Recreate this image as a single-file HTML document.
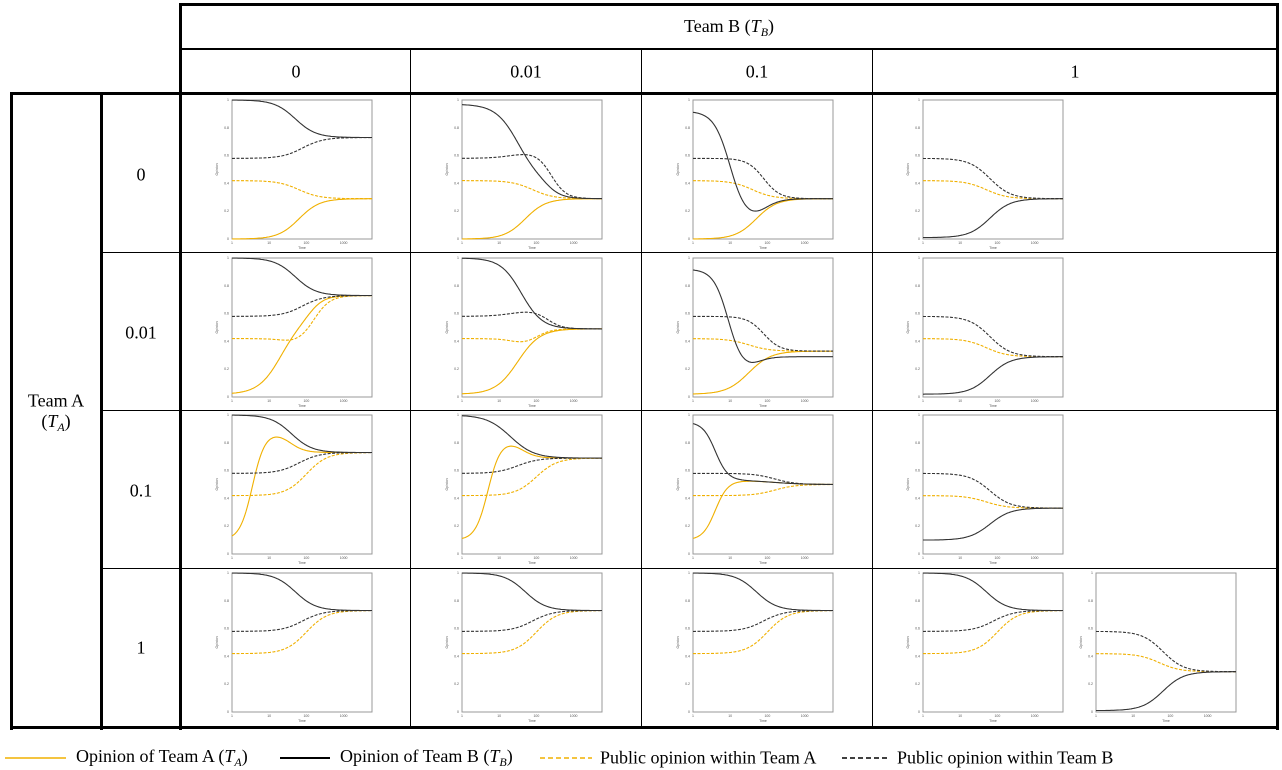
<!DOCTYPE html>
<html><head><meta charset="utf-8">
<style>
body{margin:0;width:1282px;height:767px;background:#fff;position:relative;overflow:hidden;font-family:"Liberation Serif",serif;font-size:18px;color:#000}
.l{position:absolute;background:#000}
.t{position:absolute;transform:translate(-50%,-50%);white-space:nowrap}
sub{font-size:12px;vertical-align:-4px}
svg{position:absolute;left:0;top:0}
</style></head><body>
<div class="l" style="left:179px;top:3px;width:1100px;height:3px"></div>
<div class="l" style="left:179px;top:3px;width:3px;height:727px"></div>
<div class="l" style="left:1276px;top:3px;width:3px;height:727px"></div>
<div class="l" style="left:182px;top:48px;width:1095px;height:2px"></div>
<div class="l" style="left:10px;top:92px;width:1269px;height:3px"></div>
<div class="l" style="left:10px;top:92px;width:3px;height:638px"></div>
<div class="l" style="left:100px;top:92px;width:3px;height:638px"></div>
<div class="l" style="left:10px;top:726px;width:1269px;height:3px"></div>
<div class="l" style="left:410px;top:50px;width:1px;height:677px"></div>
<div class="l" style="left:641px;top:50px;width:1px;height:677px"></div>
<div class="l" style="left:872px;top:50px;width:1px;height:677px"></div>
<div class="l" style="left:103px;top:252px;width:1174px;height:1px"></div>
<div class="l" style="left:103px;top:410px;width:1174px;height:1px"></div>
<div class="l" style="left:103px;top:568px;width:1174px;height:1px"></div>

<div class="t" style="left:729px;top:28px">Team B (<i>T<sub>B</sub></i>)</div>
<div class="t" style="left:296px;top:72px">0</div>
<div class="t" style="left:526px;top:72px">0.01</div>
<div class="t" style="left:757px;top:72px">0.1</div>
<div class="t" style="left:1075px;top:72px">1</div>
<div class="t" style="left:141px;top:175px">0</div>
<div class="t" style="left:141px;top:333px">0.01</div>
<div class="t" style="left:141px;top:491px">0.1</div>
<div class="t" style="left:141px;top:648px">1</div>
<div class="t" style="left:56px;top:401px">Team A</div>
<div class="t" style="left:56px;top:423px">(<i>T<sub>A</sub></i>)</div>

<svg id="s" width="1282" height="767"></svg>

<div class="t" style="left:76px;top:758px;transform:translate(0,-50%)">Opinion of Team A (<i>T<sub>A</sub></i>)</div>
<div class="t" style="left:340px;top:758px;transform:translate(0,-50%)">Opinion of Team B (<i>T<sub>B</sub></i>)</div>
<div class="t" style="left:600px;top:758px;transform:translate(0,-50%)">Public opinion within Team A</div>
<div class="t" style="left:897px;top:758px;transform:translate(0,-50%)">Public opinion within Team B</div>

<script>
var Y='#f0b000',K='#333';
var s=document.getElementById('s'),h='';
h+='<line x1="5" y1="758" x2="66" y2="758" stroke="'+Y+'" stroke-width="1.5"/>';
h+='<line x1="280" y1="758" x2="330" y2="758" stroke="#000" stroke-width="2"/>';
h+='<line x1="540" y1="758" x2="592" y2="758" stroke="'+Y+'" stroke-width="1.5" stroke-dasharray="5,3"/>';
h+='<line x1="842" y1="758" x2="890" y2="758" stroke="#000" stroke-width="1.5" stroke-dasharray="5,3"/>';
function S(u,c,w){return 1/(1+Math.exp(-(u-c)/w));}
function f(y0,terms){return function(u){var y=y0;terms.forEach(function(t){y+=t[0]*S(u,t[1],t[2]);});return y;};}
function chart(x,y,curves){
 var W=140,H=139;
 h+='<rect x="'+x+'" y="'+y+'" width="'+W+'" height="'+H+'" fill="none" stroke="#999" stroke-width="1"/>';
 var yl=['0','0.2','0.4','0.6','0.8','1'];
 for(var i=0;i<6;i++){var yy=y+H-i*H/5;h+='<text x="'+(x-3)+'" y="'+(yy+1)+'" font-size="3.5" text-anchor="end" fill="#555" font-family="Liberation Sans">'+yl[i]+'</text>';}
 var xl=['1','10','100','1000'];
 for(var i=0;i<4;i++){var xx=x+i*37.2;h+='<text x="'+xx+'" y="'+(y+H+5)+'" font-size="3.5" text-anchor="middle" fill="#555" font-family="Liberation Sans">'+xl[i]+'</text>';}
 h+='<text x="'+(x+W/2)+'" y="'+(y+H+10)+'" font-size="3.5" text-anchor="middle" fill="#555" font-family="Liberation Sans">Time</text>';
 h+='<text x="'+(x-14)+'" y="'+(y+H/2)+'" font-size="3.5" text-anchor="middle" fill="#555" font-family="Liberation Sans" transform="rotate(-90 '+(x-14)+' '+(y+H/2)+')">Opinion</text>';
 curves.forEach(function(c){
  var fn=c[0],col=c[1],dash=c[2],p=[];
  for(var px=0;px<=W;px+=1){var u=px/37.2;var v=fn(u);p.push((x+px).toFixed(1)+','+(y+H-v*H).toFixed(1));}
  h+='<polyline points="'+p.join(' ')+'" fill="none" stroke="'+col+'" stroke-width="1.1"'+(dash?' stroke-dasharray="3,1.5"':'')+'/>';
 });
}
var cols=[232,462,693,923],rows=[100,258,415,573];
var w=0.28;
var D={
'0,0':[[f(0,[[0.29,1.8,w]]),Y,0],[f(0.42,[[-0.13,1.8,w]]),Y,1],[f(0.58,[[0.15,1.9,w]]),K,1],[f(1,[[-0.27,1.7,w]]),K,0]],
'0,1':[[f(0,[[0.29,1.7,w]]),Y,0],[f(0.42,[[-0.13,1.9,w]]),Y,1],[f(0.58,[[0.05,1.4,0.3],[-0.34,2.4,0.2]]),K,1],[f(0.97,[[-0.55,1.5,0.3],[-0.13,2.3,0.2]]),K,0]],
'0,2':[[f(0,[[0.29,1.7,w]]),Y,0],[f(0.42,[[-0.13,1.6,w]]),Y,1],[f(0.58,[[-0.29,1.9,0.22]]),K,1],[f(0.92,[[-0.8,1.0,0.22],[0.17,1.9,0.22]]),K,0]],
'0,3':[[f(0.42,[[-0.13,1.7,w]]),Y,1],[f(0.58,[[-0.29,1.8,w]]),K,1],[f(0.01,[[0.28,1.8,w]]),K,0]],
'1,0':[[f(0.02,[[0.53,1.3,0.3],[0.18,2.1,0.2]]),Y,0],[f(0.42,[[-0.04,1.4,0.2],[0.35,2.2,0.22]]),Y,1],[f(0.58,[[0.15,1.9,w]]),K,1],[f(1,[[-0.27,1.7,w]]),K,0]],
'1,1':[[f(0.02,[[0.47,1.5,0.3]]),Y,0],[f(0.42,[[-0.05,1.4,0.2],[0.12,2.0,0.2]]),Y,1],[f(0.58,[[0.05,1.4,0.3],[-0.14,2.3,0.2]]),K,1],[f(1,[[-0.51,1.6,0.28]]),K,0]],
'1,2':[[f(0.02,[[0.31,1.5,0.3]]),Y,0],[f(0.42,[[-0.09,1.5,w]]),Y,1],[f(0.58,[[-0.25,1.9,0.22]]),K,1],[f(0.92,[[-0.74,0.95,0.2],[0.11,1.7,0.2]]),K,0]],
'1,3':[[f(0.42,[[-0.13,1.7,w]]),Y,1],[f(0.58,[[-0.29,1.8,w]]),K,1],[f(0.02,[[0.27,1.8,w]]),K,0]],
'2,0':[[f(0.1,[[0.78,0.55,0.17],[-0.15,1.55,0.2]]),Y,0],[f(0.42,[[0.31,2.0,w]]),Y,1],[f(0.58,[[0.15,1.8,w]]),K,1],[f(1,[[-0.27,1.6,w]]),K,0]],
'2,1':[[f(0.1,[[0.72,0.7,0.17],[-0.13,1.6,0.2]]),Y,0],[f(0.42,[[0.27,2.0,w]]),Y,1],[f(0.58,[[0.11,1.5,w]]),K,1],[f(1,[[-0.31,1.3,0.32]]),K,0]],
'2,2':[[f(0.1,[[0.43,0.6,0.17],[-0.03,2.2,0.4]]),Y,0],[f(0.42,[[0.08,2.2,w]]),Y,1],[f(0.58,[[-0.08,2.2,w]]),K,1],[f(0.95,[[-0.42,0.6,0.17],[-0.03,2.2,0.4]]),K,0]],
'2,3':[[f(0.42,[[-0.09,1.7,w]]),Y,1],[f(0.58,[[-0.25,1.8,w]]),K,1],[f(0.1,[[0.23,1.8,w]]),K,0]],
};
var r4=[[f(0.42,[[0.31,2.0,w]]),Y,1],[f(0.58,[[0.15,1.9,w]]),K,1],[f(1,[[-0.27,1.7,w]]),K,0]];
for(var r=0;r<3;r++)for(var c=0;c<4;c++)chart(cols[c],rows[r],D[r+','+c]);
for(var c=0;c<4;c++)chart(cols[c],rows[3],r4);
chart(1096,573,D['0,3']);
s.innerHTML=h;
</script>
</body></html>
